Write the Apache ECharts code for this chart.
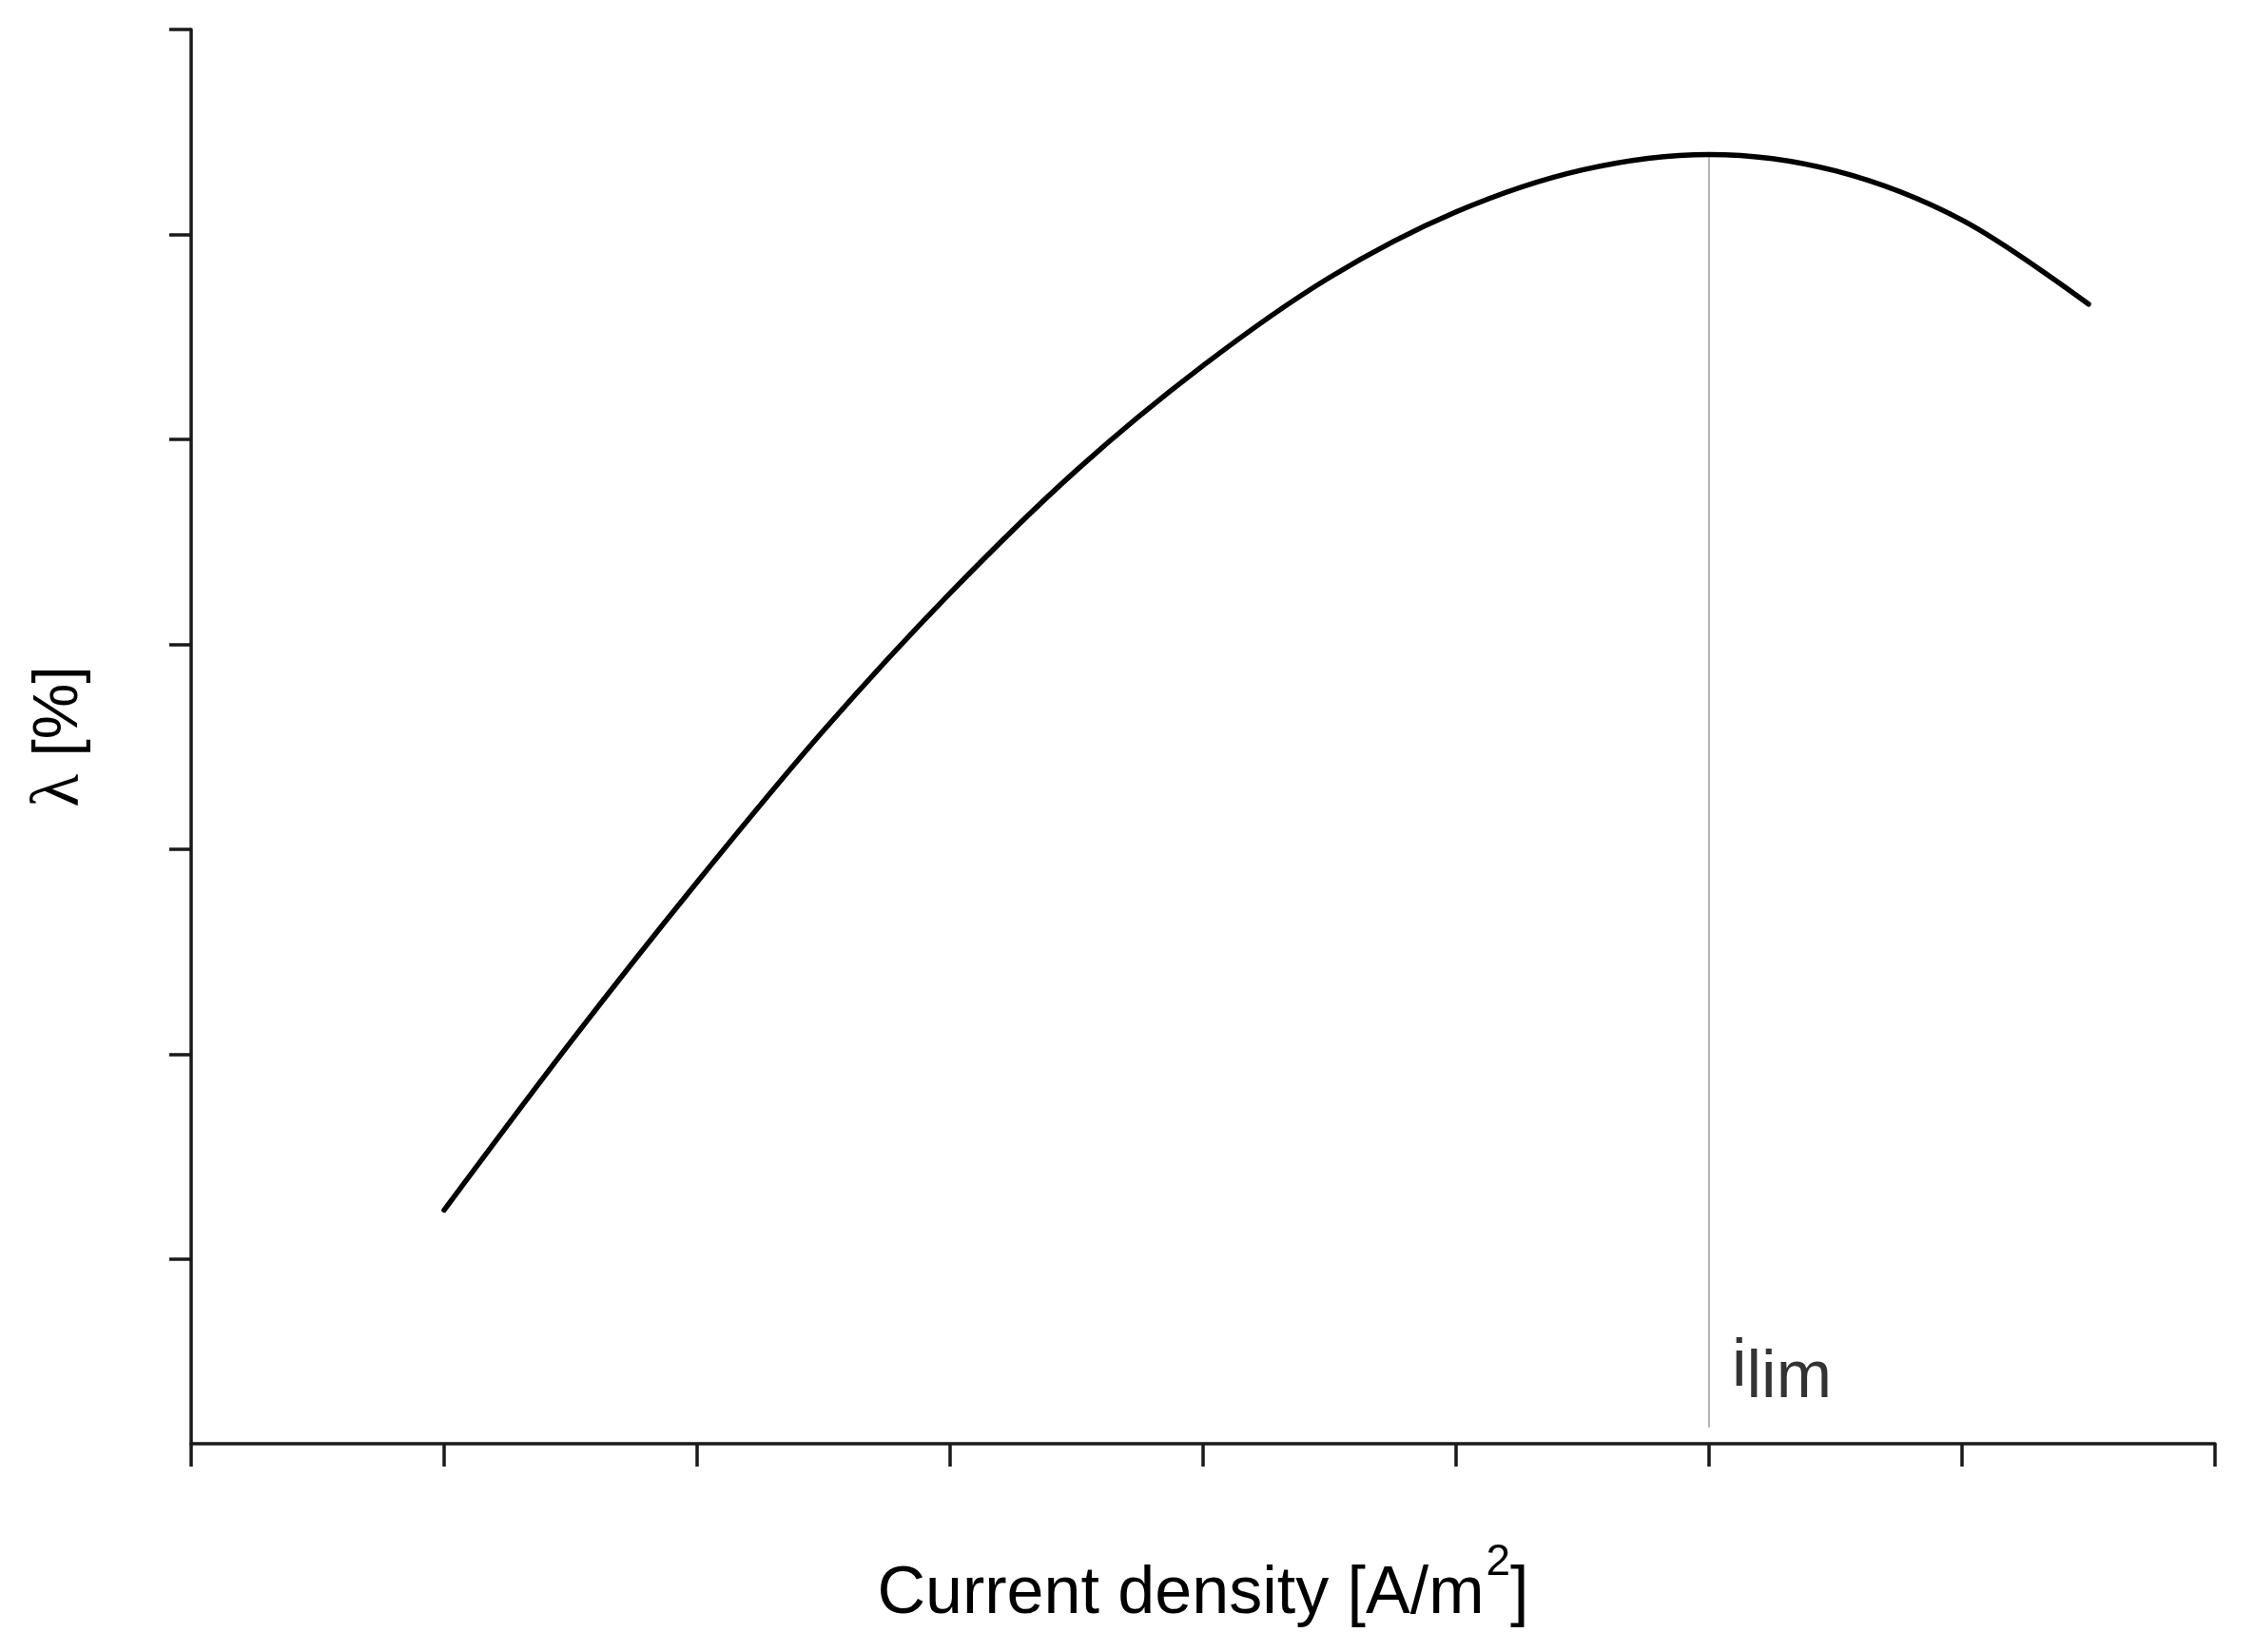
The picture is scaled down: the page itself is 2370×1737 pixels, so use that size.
<!DOCTYPE html>
<html>
<head>
<meta charset="utf-8">
<script src="https://cdn.jsdelivr.net/npm/echarts@6/dist/echarts.min.js"></script>
<style>
html,body{margin:0;padding:0;background:#fff;}
#chart{width:2370px;height:1737px;}
</style>
</head>
<body>
<div id="chart"></div>
<script>
// ---- data ----
const currentDensity = [100, 150, 200, 250, 300, 350, 400, 450, 500, 550, 600, 650, 700, 750];
const lambdaPct = [12.4, 20.6, 28.4, 35.8, 42.5, 48.5, 53.6, 57.9, 61.1, 63.15, 63.9, 63.1, 60.7, 56.6];
const xTickValues = [0, 100, 200, 300, 400, 500, 600, 700, 800];
const yTickValues = [10, 20, 30, 40, 50, 60, 70];
const iLimX = 600;
const iLimLine = [1.8, 63.9];
const iLimLabel = 'i';
const iLimSub = 'lim';
const xTitle = 'Current density [A/m';
const xTitleSup = '2';
const yTitleGreek = 'λ';
const yTitleRest = ' [%]';

const axisColor = '#1a1a1a';
const chart = echarts.init(document.getElementById('chart'), null, {renderer: 'canvas'});

const option = {
  backgroundColor: '#ffffff',
  animation: false,
  grid: {left: 201, right: 41, top: 31, bottom: 219, containLabel: false},
  xAxis: {
    type: 'value',
    min: xTickValues[0],
    max: xTickValues[xTickValues.length - 1],
    interval: 100,
    name: '{m|' + xTitle + '}{s|' + xTitleSup + '}{m|]}',
    nameLocation: 'middle',
    nameGap: 124,
    nameTextStyle: {
      rich: {
        m: {fontFamily: 'Liberation Sans, Arial, sans-serif', fontSize: 70, color: '#000', verticalAlign: 'bottom', lineHeight: 70},
        s: {fontFamily: 'Liberation Sans, Arial, sans-serif', fontSize: 46, color: '#000', verticalAlign: 'bottom', lineHeight: 46, padding: [0, 0, 46, 2]}
      }
    },
    axisLine: {show: true, onZero: false, lineStyle: {color: axisColor, width: 3.5}},
    axisTick: {show: true, inside: false, length: 24, lineStyle: {color: axisColor, width: 3.5}},
    axisLabel: {show: false},
    splitLine: {show: false}
  },
  yAxis: {
    type: 'value',
    min: 1,
    max: 70,
    name: '{g|' + yTitleGreek + '}{r|' + yTitleRest + '}',
    nameLocation: 'middle',
    nameRotate: 90,
    nameGap: 102,
    nameTextStyle: {
      rich: {
        g: {fontFamily: 'Liberation Serif, Times New Roman, serif', fontSize: 72, color: '#000'},
        r: {fontFamily: 'Liberation Sans, Arial, sans-serif', fontSize: 66, color: '#000'}
      }
    },
    axisLine: {show: true, onZero: false, lineStyle: {color: axisColor, width: 3.5}},
    axisTick: {show: true, inside: false, length: 23, customValues: yTickValues, lineStyle: {color: axisColor, width: 3.5}},
    axisLabel: {show: false},
    splitLine: {show: false}
  },
  series: [
    {
      type: 'line',
      name: 'ilim',
      data: [[iLimX, iLimLine[0]], [iLimX, iLimLine[1]]],
      symbol: 'none',
      lineStyle: {color: '#b5b5b5', width: 2},
      z: 1,
      silent: true
    },
    {
      type: 'line',
      name: 'lambda',
      data: currentDensity.map((x, i) => [x, lambdaPct[i]]),
      smooth: 0.33,
      symbol: 'none',
      lineStyle: {color: '#000', width: 5.5, cap: 'round', join: 'round'},
      z: 3
    },
    {
      type: 'scatter',
      data: [[iLimX, 4.15]],
      symbolSize: 0,
      silent: true,
      label: {
        show: true,
        position: 'right',
        distance: 24,
        formatter: '{i|' + iLimLabel + '}{l|' + iLimSub + '}',
        rich: {
          i: {fontFamily: 'Liberation Sans, Arial, sans-serif', fontSize: 70, color: '#000', verticalAlign: 'bottom', lineHeight: 70, padding: [0, 0, 12, 0]},
          l: {fontFamily: 'Liberation Sans, Arial, sans-serif', fontSize: 70, color: '#000', verticalAlign: 'bottom', lineHeight: 70}
        }
      }
    }
  ]
};
chart.setOption(option);
</script>
</body>
</html>
